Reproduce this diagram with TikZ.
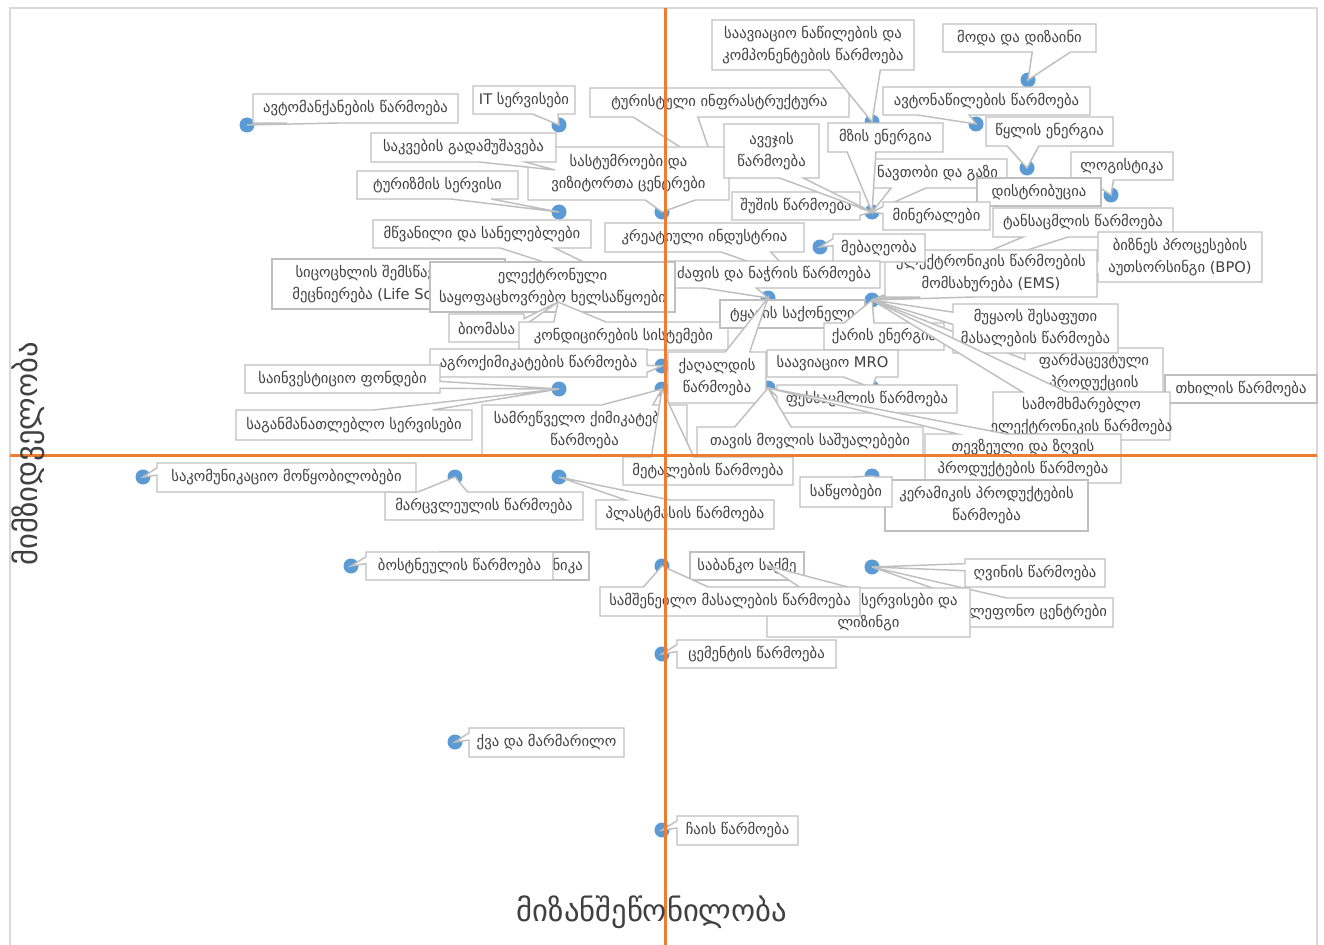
\documentclass[tikz,border=0pt]{standalone}
\usepackage{fontspec}
\setmainfont{DejaVu Sans}
\definecolor{dotblue}{HTML}{5B9BD5}
\definecolor{axorange}{HTML}{ED7D31}
\definecolor{boxgrey}{HTML}{BFBFBF}
\definecolor{txtgrey}{HTML}{404040}
\definecolor{framegrey}{HTML}{D9D9D9}
\tikzset{
  lblbox/.style={draw=boxgrey, fill=white, line width=1.1pt, line join=miter},
  lbltext/.style={text=txtgrey, font=\fontsize{11}{16.5}\selectfont, align=center, inner sep=0pt},
  pdot/.style={circle, fill=dotblue, inner sep=0pt, minimum size=11.25pt},
  axisline/.style={draw=axorange, line width=2pt},
  axtitle/.style={text=txtgrey, font=\fontsize{23}{27}\selectfont, inner sep=0pt},
}
% callout: name, l, t, r, b, px, py, text  (pixel coordinates, y down)
\newcommand\calloutbox[8]{%
  \pgfmathsetmacro\cbL{#2}%
  \pgfmathsetmacro\cbT{#3}%
  \pgfmathsetmacro\cbR{#4}%
  \pgfmathsetmacro\cbB{#5}%
  \pgfmathsetmacro\cbPx{#6}%
  \pgfmathsetmacro\cbPy{#7}%
  \pgfmathsetmacro\cbW{\cbR-\cbL}%
  \pgfmathsetmacro\cbH{\cbB-\cbT}%
  \pgfmathsetmacro\cbDx{\cbPx-(\cbL+\cbR)/2}%
  \pgfmathsetmacro\cbDy{\cbPy-(\cbT+\cbB)/2}%
  \pgfmathtruncatemacro\cbVert{(abs(\cbDy)-abs(\cbDx*\cbH/\cbW))>0}%
  \pgfmathtruncatemacro\cbXpos{\cbDx>0}%
  \pgfmathtruncatemacro\cbYpos{\cbDy>0}%
  \pgfmathsetmacro\cbXa{\cbL+\cbW*(2+5*\cbXpos)/12}%
  \pgfmathsetmacro\cbXb{\cbL+\cbW*(5+5*\cbXpos)/12}%
  \pgfmathsetmacro\cbYa{\cbT+\cbH*(2+5*\cbYpos)/12}%
  \pgfmathsetmacro\cbYb{\cbT+\cbH*(5+5*\cbYpos)/12}%
  \ifnum\cbVert=1
    \ifnum\cbYpos=1
      \path[lblbox] (\cbL,\cbT) -- (\cbR,\cbT) -- (\cbR,\cbB) -- (\cbXb,\cbB) -- (\cbPx,\cbPy) -- (\cbXa,\cbB) -- (\cbL,\cbB) -- cycle;
    \else
      \path[lblbox] (\cbL,\cbT) -- (\cbXa,\cbT) -- (\cbPx,\cbPy) -- (\cbXb,\cbT) -- (\cbR,\cbT) -- (\cbR,\cbB) -- (\cbL,\cbB) -- cycle;
    \fi
  \else
    \ifnum\cbXpos=1
      \path[lblbox] (\cbL,\cbT) -- (\cbR,\cbT) -- (\cbR,\cbYa) -- (\cbPx,\cbPy) -- (\cbR,\cbYb) -- (\cbR,\cbB) -- (\cbL,\cbB) -- cycle;
    \else
      \path[lblbox] (\cbL,\cbT) -- (\cbR,\cbT) -- (\cbR,\cbB) -- (\cbL,\cbB) -- (\cbL,\cbYb) -- (\cbPx,\cbPy) -- (\cbL,\cbYa) -- cycle;
    \fi
  \fi
  \node[lbltext] (#1) at ({(\cbL+\cbR)/2},{(\cbT+\cbB)/2}) {#8};
}
% plain box: name, l, t, r, b, text
\newcommand\simplebox[6]{%
  \path[lblbox] (#2,#3) rectangle (#4,#5);
  \node[lbltext] (#1) at ({(#2+#4)/2},{(#3+#5)/2}) {#6};
}
\begin{document}
\begin{tikzpicture}[x=0.75pt,y=-0.75pt]
\useasboundingbox (0,0) rectangle (1324,945);
\fill[white] (0,0) rectangle (1324,945);
\draw[framegrey, line width=0.9pt] (10,8) rectangle (1317,950);

% data points
\foreach \px/\py [count=\i] in {247/125,559/125,872/122,1028/80,976/124,1027/168,1111/195,872/212,662/212,559/212,820/247,768/298,872/300,558/302,662/300,662/366,559/389,662/389,768/388,872/388,872/476,559/477,455/477,143/477,351/566,662/566,768/566,872/567,662/654,455/742,662/830}
  \node[pdot] (d\i) at (\px,\py) {};

% labels (back to front)
\calloutbox{turinfra}{590}{88}{849}{117}{716}{170}{ტურისტული ინფრასტრუქტურა}
\calloutbox{hotels}{528}{147}{729}{200}{662}{212}{სასტუმროები და\\ვიზიტორთა ცენტრები}
\calloutbox{food}{371}{133}{556}{162}{555}{170}{საკვების გადამუშავება}
\calloutbox{auto}{253}{94}{458}{123}{247}{125}{ავტომანქანების წარმოება}
\calloutbox{itserv}{473}{86}{575}{114}{559}{125}{IT სერვისები}
\calloutbox{tourism}{357}{171}{518}{199}{559}{212}{ტურიზმის სერვისი}
\calloutbox{aviaparts}{712}{20}{914}{70}{872}{122}{საავიაციო ნაწილების და\\კომპონენტების წარმოება}
\calloutbox{fashion}{943}{24}{1096}{52}{1028}{80}{მოდა და დიზაინი}
\calloutbox{autoparts}{883}{87}{1090}{115}{976}{124}{ავტონაწილების წარმოება}
\calloutbox{water}{986}{117}{1113}{146}{1027}{168}{წყლის ენერგია}
\calloutbox{logistics}{1071}{152}{1173}{180}{1111}{195}{ლოგისტიკა}
\calloutbox{oil}{868}{159}{1007}{188}{872}{212}{ნავთობი და გაზი}
\simplebox{distrib}{977}{178}{1101}{206}{დისტრიბუცია}
\calloutbox{glass}{732}{192}{860}{220}{872}{212}{შუშის წარმოება}
\calloutbox{furniture}{724}{124}{819}{178}{872}{212}{ავეჯის\\წარმოება}
\calloutbox{solar}{828}{123}{943}{152}{872}{212}{მზის ენერგია}
\calloutbox{minerals}{883}{202}{990}{230}{872}{212}{მინერალები}
\calloutbox{clothing}{993}{208}{1173}{237}{872}{300}{ტანსაცმლის წარმოება}
\calloutbox{bpo}{1098}{232}{1262}{282}{872}{300}{ბიზნეს პროცესების\\აუთსორსინგი (BPO)}
\calloutbox{ems}{885}{250}{1097}{297}{872}{300}{ელექტრონიკის წარმოების\\მომსახურება (EMS)}
\calloutbox{garden}{833}{234}{925}{262}{820}{247}{მებაღეობა}
\calloutbox{greens}{373}{220}{591}{248}{662}{300}{მწვანილი და სანელებლები}
\calloutbox{creative}{605}{223}{804}{252}{795}{278}{კრეატიული ინდუსტრია}
\calloutbox{yarn}{668}{261}{880}{288}{768}{298}{ძაფის და ნაჭრის წარმოება}
\simplebox{lifesci}{272}{259}{505}{309}{სიცოცხლის შემსწავლელი\\მეცნიერება (Life Sciences)}
\simplebox{appliances}{430}{262}{675}{312}{ელექტრონული\\საყოფაცხოვრებო ხელსაწყოები}
\calloutbox{biomass}{449}{314}{524}{342}{558}{302}{ბიომასა}
\calloutbox{hvac}{519}{322}{728}{350}{558}{302}{კონდიცირების სისტემები}
\calloutbox{agro}{430}{349}{647}{377}{662}{366}{აგროქიმიკატების წარმოება}
\calloutbox{invest}{245}{365}{440}{393}{559}{389}{საინვესტიციო ფონდები}
\calloutbox{edu}{236}{410}{472}{440}{559}{389}{საგანმანათლებლო სერვისები}
\calloutbox{indchem}{482}{405}{687}{455}{662}{389}{სამრეწველო ქიმიკატების\\წარმოება}
\simplebox{leather}{720}{300}{865}{328}{ტყავის საქონელი}
\calloutbox{paper}{668}{352}{766}{403}{768}{298}{ქაღალდის\\წარმოება}
\calloutbox{wind}{824}{323}{944}{350}{872}{300}{ქარის ენერგია}
\calloutbox{pharma}{1025}{348}{1163}{418}{872}{300}{ფარმაცევტული\\პროდუქციის\\წარმოება}
\calloutbox{cardboard}{953}{304}{1118}{353}{872}{300}{მუყაოს შესაფუთი\\მასალების წარმოება}
\simplebox{hazelnut}{1165}{375}{1317}{403}{თხილის წარმოება}
\calloutbox{consumer}{993}{392}{1170}{440}{872}{300}{სამომხმარებლო\\ელექტრონიკის წარმოება}
\calloutbox{mro}{767}{350}{898}{377}{872}{388}{საავიაციო MRO}
\calloutbox{shoes}{777}{385}{957}{413}{768}{388}{ფეხსაცმლის წარმოება}
\calloutbox{haircare}{697}{427}{923}{455}{768}{388}{თავის მოვლის საშუალებები}
\calloutbox{fish}{925}{434}{1121}{483}{768}{388}{თევზეული და ზღვის\\პროდუქტების წარმოება}
\calloutbox{metals}{623}{457}{793}{485}{662}{389}{მეტალების წარმოება}
\simplebox{ceramics}{885}{480}{1088}{531}{კერამიკის პროდუქტების\\წარმოება}
\calloutbox{warehouses}{800}{477}{892}{507}{872}{476}{საწყობები}
\calloutbox{plastics}{596}{500}{774}{529}{559}{477}{პლასტმასის წარმოება}
\calloutbox{grain}{385}{492}{583}{520}{455}{477}{მარცვლეულის წარმოება}
\calloutbox{telecom}{157}{463}{416}{492}{143}{477}{საკომუნიკაციო მოწყობილობები}
\path[lblbox] (440,552) rectangle (589,580);
\node[lbltext, anchor=east] (electro) at (583,566) {ელექტროტექნიკა};
\calloutbox{veg}{366}{552}{553}{580}{351}{566}{ბოსტნეულის წარმოება}
\simplebox{banking}{690}{552}{804}{580}{საბანკო საქმე}
\calloutbox{wine}{965}{559}{1105}{587}{872}{567}{ღვინის წარმოება}
\calloutbox{callcenter}{931}{598}{1113}{627}{872}{567}{სატელეფონო ცენტრები}
\calloutbox{finance}{767}{588}{970}{637}{768}{566}{ფინანსური სერვისები და\\ლიზინგი}
\calloutbox{construction}{600}{587}{860}{616}{662}{566}{სამშენებლო მასალების წარმოება}
\calloutbox{cement}{677}{640}{836}{668}{662}{654}{ცემენტის წარმოება}
\calloutbox{stone}{469}{728}{624}{757}{455}{742}{ქვა და მარმარილო}
\calloutbox{tea}{677}{816}{798}{845}{662}{830}{ჩაის წარმოება}

% axes
\coordinate (vtop) at (665.5,8);
\coordinate (vbot) at (665.5,950);
\coordinate (hleft) at (10,455.5);
\coordinate (hright) at (1317,455.5);
\draw[axisline] (vtop) -- (vbot);
\draw[axisline] (hleft) -- (hright);

% axis titles
\node[axtitle] (xtitle) at (652,912) {მიზანშეწონილობა};
\node[axtitle, rotate=90] (ytitle) at (28,454) {მიმზიდველობა};
\end{tikzpicture}
\end{document}
